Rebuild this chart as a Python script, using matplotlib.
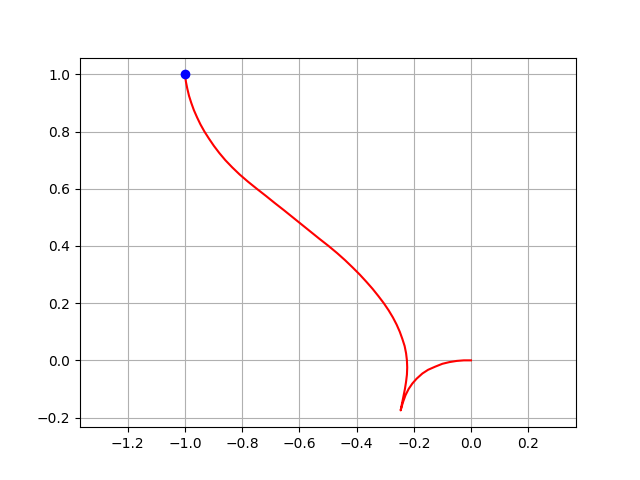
import matplotlib
matplotlib.use('Agg')
import matplotlib.pyplot as plt

# path: the short arc from the origin down to the cusp
arcX = [0.0, -0.025, -0.050, -0.075, -0.100, -0.125, -0.150, -0.170, -0.190, -0.205,
        -0.218, -0.229, -0.238, -0.246]
arcY = [0.0, 0.0, -0.002, -0.006, -0.012, -0.022, -0.033, -0.046, -0.064, -0.081,
        -0.100, -0.122, -0.147, -0.175]

# then the long branch from the cusp up to the end point
branchY = [-0.175, -0.150, -0.125, -0.100, -0.075, -0.050, -0.025, 0.0, 0.025, 0.050,
           0.075, 0.100, 0.125, 0.150, 0.175, 0.200, 0.225, 0.250, 0.275, 0.300,
           0.325, 0.350, 0.375, 0.400, 0.425, 0.450, 0.475, 0.500, 0.525, 0.550,
           0.575, 0.600, 0.625, 0.650, 0.675, 0.700, 0.725, 0.750, 0.775, 0.800,
           0.825, 0.850, 0.875, 0.900, 0.925, 0.950, 0.975, 1.0]
branchX = [-0.246, -0.241, -0.236, -0.231, -0.227, -0.224, -0.223, -0.224, -0.227, -0.232,
           -0.240, -0.249, -0.260, -0.273, -0.288, -0.305, -0.324, -0.344, -0.366, -0.389,
           -0.414, -0.440, -0.468, -0.498, -0.530, -0.561, -0.592, -0.623, -0.654, -0.686,
           -0.717, -0.749, -0.780, -0.809, -0.835, -0.859, -0.880, -0.899, -0.916, -0.932,
           -0.946, -0.958, -0.969, -0.978, -0.986, -0.992, -0.997, -1.0]

endX = [-1.0]
endY = [1.0]

fig, ax = plt.subplots(figsize=(6.4, 4.8), dpi=100)
ax.plot(arcX + branchX[1:], arcY + branchY[1:], 'r-')
ax.plot(endX, endY, 'bo')
ax.axis('equal')
ax.grid(True)
fig.savefig('out.png')
